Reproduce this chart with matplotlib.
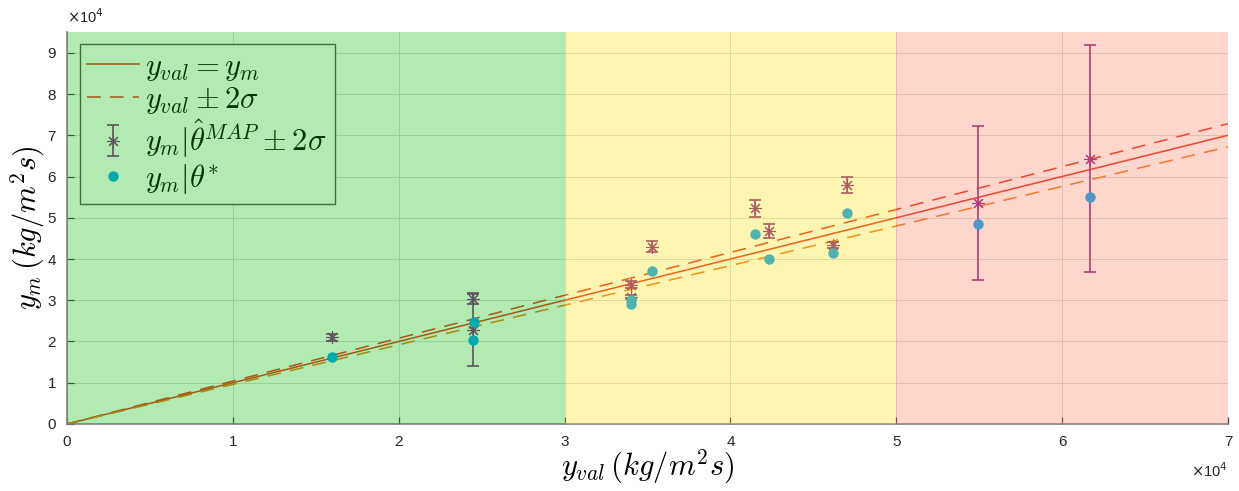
import numpy as np
import matplotlib
matplotlib.use("Agg")
import matplotlib.pyplot as plt
from matplotlib.container import ErrorbarContainer

plt.rcParams['mathtext.fontset'] = 'cm'
plt.rcParams['font.family'] = ['Liberation Sans', 'DejaVu Sans']

# ---------------- data ----------------
# y_m | theta_hat^MAP (asterisks with +-2 sigma error bars)
x_map = [16000, 24450, 24450, 34000, 34000, 35300, 41500, 42300, 46200, 47000, 54900, 61700]
y_map = [21000, 30400, 22700, 33800, 30800, 43000, 52300, 46700, 43400, 58000, 53550, 64300]
err_map = [900, 1300, 8700, 800, 500, 1400, 2000, 1700, 700, 2000, 18750, 27500]

# y_m | theta* (filled circles)
x_star = [16000, 24550, 24450, 34000, 34000, 35300, 41500, 42300, 46200, 47000, 54900, 61700]
y_star = [16300, 24700, 20300, 30100, 29000, 37200, 46100, 40100, 41400, 51100, 48400, 55100]

# identity line and +-2 sigma band
line_x = [0, 70000]
band_frac = 0.04

# coloured validity regions
region_edges = [0, 30000, 50000, 70000]
region_colors = [(0.0, 0.74, 0.0), (1.0, 0.87, 0.02), (1.0, 0.48, 0.35)]

x_ticks = [0, 10000, 20000, 30000, 40000, 50000, 60000, 70000]
x_tick_labels = ['0', '1', '2', '3', '4', '5', '6', '7']
y_ticks = [0, 10000, 20000, 30000, 40000, 50000, 60000, 70000, 80000, 90000]
y_tick_labels = ['0', '1', '2', '3', '4', '5', '6', '7', '8', '9']

legend_labels = [r'$y_{val} = y_m$', r'$y_{val} \pm 2\sigma$',
                 r'$y_m|\hat{\theta}^{MAP} \pm 2\sigma$', r'$y_m|\theta^{*}$']

# ---------------- figure ----------------
fig = plt.figure(figsize=(12.39, 4.91), dpi=100)
ax = fig.add_axes([0.0541, 0.1365, 0.937, 0.798])

ax.set_xlim(0, 70000)
ax.set_ylim(0, 95000)

ax.grid(True, color='#d8d8d8', lw=0.7, zorder=0)
ax.set_axisbelow(True)

red = (0.92, 0.18, 0.12)
orange = (0.95, 0.45, 0.12)
purple = (0.53, 0.15, 0.53)
blue = (0.02, 0.64, 0.97)

lx = np.array(line_x, dtype=float)
h_line, = ax.plot(lx, lx, color=red, lw=1.1, zorder=3)
h_dash, = ax.plot(lx, lx * (1 + band_frac), color=red, lw=1.1,
                  ls=(0, (9, 6)), zorder=3)
ax.plot(lx, lx * (1 - band_frac), color=orange, lw=1.1,
        ls=(0, (9, 6)), zorder=3)

h_err = ax.errorbar(x_map, y_map, yerr=err_map, fmt='none',
                    ecolor=purple, elinewidth=1.2, capsize=4.5,
                    capthick=1.2, zorder=4)
h_ast, = ax.plot(x_map, y_map, ls='none', marker=(8, 2, 0), ms=9, mew=0.8,
                 color=purple, zorder=4)
h_star, = ax.plot(x_star, y_star, 'o', ms=7.5, mec='none', color=blue, zorder=5)

# region overlays (drawn on top, translucent)
for lo, hi, c in zip(region_edges[:-1], region_edges[1:], region_colors):
    ax.axvspan(lo, hi, color=c, alpha=0.30, lw=0, zorder=10)

ax.set_xticks(x_ticks)
ax.set_xticklabels(x_tick_labels)
ax.set_yticks(y_ticks)
ax.set_yticklabels(y_tick_labels)
ax.tick_params(direction='in', length=5, width=0.9, color='#404040',
               labelsize=11, labelcolor='#262626', pad=8)

for s in ['top', 'right']:
    ax.spines[s].set_visible(False)
for s in ['left', 'bottom']:
    ax.spines[s].set_color('#808080')
    ax.spines[s].set_linewidth(1.2)

ax.text(0.0, 1.015, r'$\times$10$^4$', transform=ax.transAxes, fontsize=10.5,
        color='#262626', ha='left', va='bottom', math_fontfamily='dejavusans')
ax.text(1.0, -0.095, r'$\times$10$^4$', transform=ax.transAxes, fontsize=10.5,
        color='#262626', ha='right', va='top', math_fontfamily='dejavusans')

ax.set_xlabel(r'$y_{val}\,(kg/m^2s)$', fontsize=22, va='center', ha='center')
ax.xaxis.set_label_coords(0.5, -0.11)
ax.set_ylabel(r'$y_m\,(kg/m^2s)$', fontsize=22, va='center', ha='center')
ax.yaxis.set_label_coords(-0.0336, 0.5)

# legend errorbar handle: asterisk with error bar and caps
leg_err = ax.errorbar([np.nan], [np.nan], yerr=[1], fmt='none',
                      ecolor=purple, elinewidth=1.2, capsize=4.5, capthick=1.2)
leg_err_full = ErrorbarContainer((h_ast, leg_err.lines[1], leg_err.lines[2]),
                                 has_xerr=False, has_yerr=True)

leg = ax.legend([h_line, h_dash, leg_err_full, h_star], legend_labels,
                loc='upper left', bbox_to_anchor=(0.011, 0.969), borderaxespad=0,
                fontsize=22, fancybox=False, framealpha=1, facecolor='white',
                edgecolor='#555555', labelspacing=0.06, handlelength=1.7,
                handletextpad=0.2, borderpad=0.25)
leg.get_frame().set_linewidth(1.0)
leg.set_zorder(9)

fig.savefig('out.png', dpi=100)
